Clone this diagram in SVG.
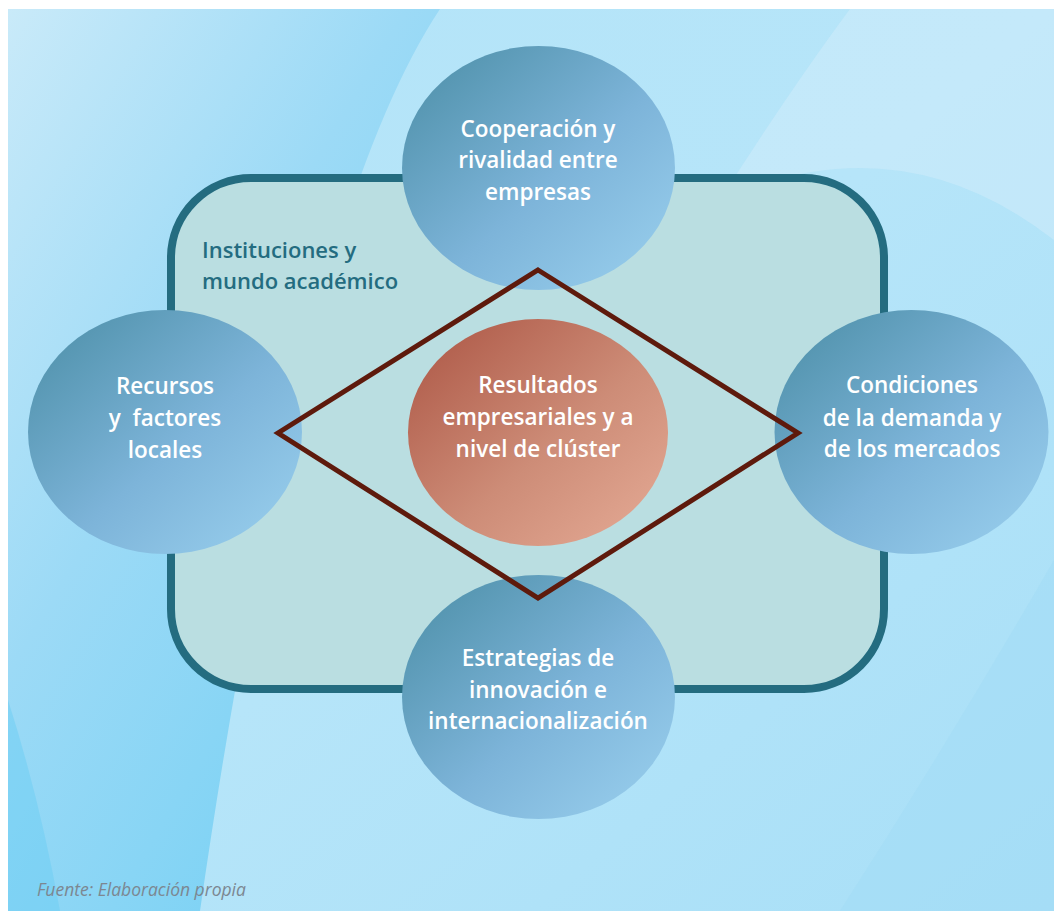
<svg xmlns="http://www.w3.org/2000/svg" width="1054" height="911" viewBox="0 0 1054 911">
  <defs>
    <linearGradient id="bgLeft" x1="0" y1="0" x2="0.8" y2="1">
      <stop offset="0" stop-color="#c9eaf9"/>
      <stop offset="0.45" stop-color="#9cdaf6"/>
      <stop offset="1" stop-color="#74d0f4"/>
    </linearGradient>
    <linearGradient id="bgBase" x1="0" y1="0" x2="1" y2="1">
      <stop offset="0" stop-color="#b4e4f8"/>
      <stop offset="0.5" stop-color="#b6e5f9"/>
      <stop offset="1" stop-color="#a8dff7"/>
    </linearGradient>
    <linearGradient id="blueNode" x1="0" y1="0" x2="1" y2="1">
      <stop offset="0" stop-color="#4a8da5"/>
      <stop offset="0.55" stop-color="#7db4d9"/>
      <stop offset="1" stop-color="#9bd1ef"/>
    </linearGradient>
    <linearGradient id="redNode" x1="0" y1="0" x2="1" y2="1">
      <stop offset="0" stop-color="#ab5443"/>
      <stop offset="0.55" stop-color="#cd8c77"/>
      <stop offset="1" stop-color="#e6ac97"/>
    </linearGradient>
    <style>
      .node { fill: url(#blueNode); }
      .lbl { font-family: "Open Sans", "Liberation Sans", sans-serif; font-weight: 600; font-size: 22.5px; fill: #ffffff; text-anchor: middle; }
      .inst { font-family: "Open Sans", "Liberation Sans", sans-serif; font-weight: 600; font-size: 22px; fill: #246c80; }
      .src { font-family: "Open Sans", "Liberation Sans", sans-serif; font-style: italic; font-weight: 400; font-size: 17.5px; fill: #7c8791; }
    </style>
  </defs>

  <!-- background panel -->
  <g id="background">
    <rect x="8" y="9" width="1046" height="902" fill="url(#bgBase)"/>
    <path d="M8,9 L440,9 Q300,220 200,911 L8,911 Z" fill="url(#bgLeft)"/>
    <path d="M8,700 Q40,800 60,911 L8,911 Z" fill="#6ccdf3" opacity="0.5"/>
    <path d="M850,9 L1054,9 L1054,240 Q900,120 720,200 Q790,90 850,9 Z" fill="#cdebfa" opacity="0.6"/>
    <path d="M1054,560 Q950,740 840,911 L1054,911 Z" fill="#a2dbf6" opacity="0.5"/>
  </g>

  <!-- institutions frame -->
  <g id="instituciones">
    <rect x="171" y="178" width="713" height="511" rx="80" ry="80" fill="#badee1" stroke="#246c80" stroke-width="8"/>
    <text class="inst" x="202" y="258">Instituciones y</text>
    <text class="inst" x="202" y="289">mundo académico</text>
  </g>

  <g id="cooperacion">
    <ellipse class="node" cx="538.5" cy="168" rx="136.5" ry="122"/>
    <text class="lbl" x="538" y="137">Cooperación y</text>
    <text class="lbl" x="538" y="168">rivalidad entre</text>
    <text class="lbl" x="538" y="200">empresas</text>
  </g>

  <g id="recursos">
    <ellipse class="node" cx="165" cy="432" rx="137" ry="122"/>
    <text class="lbl" x="165" y="394">Recursos</text>
    <text class="lbl" x="165" y="426" xml:space="preserve">y  factores</text>
    <text class="lbl" x="165" y="458">locales</text>
  </g>

  <g id="condiciones">
    <ellipse class="node" cx="911.5" cy="432" rx="137" ry="122"/>
    <text class="lbl" x="912" y="393">Condiciones</text>
    <text class="lbl" x="912" y="426">de la demanda y</text>
    <text class="lbl" x="912" y="457">de los mercados</text>
  </g>

  <g id="estrategias">
    <ellipse class="node" cx="538.5" cy="697" rx="136.5" ry="122"/>
    <text class="lbl" x="538" y="666">Estrategias de</text>
    <text class="lbl" x="538" y="698">innovación e</text>
    <text class="lbl" x="538" y="729">internacionalización</text>
  </g>

  <g id="resultados">
    <ellipse cx="538" cy="432.5" rx="130" ry="113.5" fill="url(#redNode)"/>
    <text class="lbl" x="538" y="393">Resultados</text>
    <text class="lbl" x="538" y="425">empresariales y a</text>
    <text class="lbl" x="538" y="457">nivel de clúster</text>
  </g>

  <g id="connectors">
    <polygon points="538,270 798,433 538,598 278,433" fill="none" stroke="#5e1a0c" stroke-width="5" stroke-linejoin="miter"/>
  </g>

  <text class="src" x="37" y="896">Fuente: Elaboración propia</text>
</svg>
